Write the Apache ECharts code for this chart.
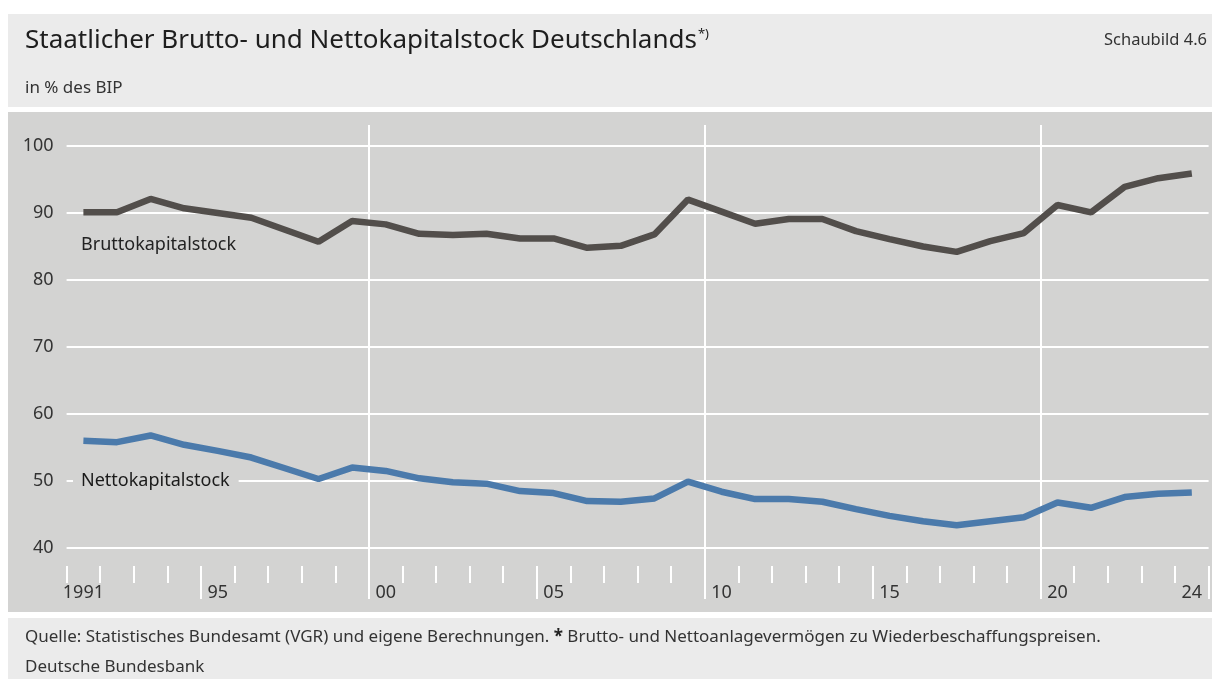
<!doctype html>
<html>
	<head>
		<meta charset="utf-8">
		<title>Staatlicher Brutto- und Nettokapitalstock</title>
		<style>
			html, body { margin: 0; padding: 0; background: #fff; }
		</style>
	</head>
	<body>
		<script src="https://cdn.jsdelivr.net/npm/echarts@6/dist/echarts.min.js"></script>

		<div id="chart" style="width: 1212px; height: 679px;"></div>

		<script>
			// values (% of GDP)
			const years = ['1991', '1992', '1993', '1994', '1995', '1996', '1997', '1998', '1999', '2000',
				'2001', '2002', '2003', '2004', '2005', '2006', '2007', '2008', '2009', '2010',
				'2011', '2012', '2013', '2014', '2015', '2016', '2017', '2018', '2019', '2020',
				'2021', '2022', '2023', '2024'];
			const brutto = [90.1, 90.1, 92.1, 90.7, 90.0, 89.3, 87.5, 85.7, 88.8, 88.3,
				86.9, 86.7, 86.9, 86.2, 86.2, 84.8, 85.1, 86.8, 92.0, 90.2,
				88.4, 89.1, 89.1, 87.3, 86.1, 85.0, 84.2, 85.8, 87.0, 91.2,
				90.1, 93.9, 95.2, 95.9];
			const netto = [56.0, 55.8, 56.8, 55.4, 54.5, 53.5, 51.9, 50.3, 52.0, 51.5,
				50.4, 49.8, 49.6, 48.5, 48.2, 47.0, 46.9, 47.4, 49.9, 48.4,
				47.3, 47.3, 46.9, 45.8, 44.8, 44.0, 43.4, 44.0, 44.6, 46.8,
				46.0, 47.6, 48.1, 48.3];

			const labelYears = ['1991', '1995', '2000', '2005', '2010', '2015', '2020', '2024'];
			const labelTexts = ['1991', '95', '00', '05', '10', '15', '20', '24'];
			const longTickYears = ['1995', '2000', '2005', '2010', '2015', '2020'];
			const decadeYears = ['2000', '2010', '2020'];

			const FONT = '"Noto Sans", "Open Sans", sans-serif';
			const plotBg = '#d3d3d2';
			const paneBg = '#ebebeb';

			let dom = document.getElementById('chart');
			let myChart = echarts.init(dom, null, { width: 1212, height: 679 });

			let opts = {
				animation: false,
				backgroundColor: '#ffffff',
				textStyle: { fontFamily: FONT },
				graphic: [
					{ type: 'rect', z: -10, shape: { x: 8, y: 14, width: 1204, height: 93 }, style: { fill: paneBg } },
					{ type: 'rect', z: -10, shape: { x: 8, y: 112, width: 1204, height: 500 }, style: { fill: plotBg } },
					{ type: 'rect', z: -10, shape: { x: 8, y: 618, width: 1204, height: 61 }, style: { fill: paneBg } },
					{
						type: 'text', z: 10, x: 25, y: 41,
						style: {
							text: '{t|Staatlicher Brutto- und Nettokapitalstock Deutschlands}{s|*)}',
							verticalAlign: 'middle',
							rich: {
								t: { fontFamily: FONT, fontSize: 26, fill: '#1e1e1e' },
								s: { fontFamily: FONT, fontSize: 13, fill: '#1e1e1e', verticalAlign: 'top', padding: [0, 0, 12, 1] }
							}
						}
					},
					{
						type: 'text', z: 10, x: 1207, y: 40,
						style: { text: 'Schaubild 4.6', font: '16.5px ' + FONT, fill: '#333', align: 'right', verticalAlign: 'middle' }
					},
					{
						type: 'text', z: 10, x: 25, y: 88,
						style: { text: 'in % des BIP', font: '17px ' + FONT, fill: '#333', verticalAlign: 'middle' }
					},
					{
						type: 'text', z: 10, x: 25, y: 637,
						style: {
							text: '{n|Quelle: Statistisches Bundesamt (VGR) und eigene Berechnungen. }{b|*}{n| Brutto- und Nettoanlagevermögen zu Wiederbeschaffungspreisen.}',
							verticalAlign: 'middle',
							rich: {
								n: { fontFamily: FONT, fontSize: 17, fill: '#333' },
								b: { fontFamily: FONT, fontSize: 17, fontWeight: 'bold', fill: '#222' }
							}
						}
					},
					{
						type: 'text', z: 10, x: 25, y: 667,
						style: { text: 'Deutsche Bundesbank', font: '17px ' + FONT, fill: '#333', verticalAlign: 'middle' }
					},
					// series names inside the plot
					{
						type: 'text', z: 10, x: 81, y: 245,
						style: { text: 'Bruttokapitalstock', font: '18px ' + FONT, fill: '#222', verticalAlign: 'middle' }
					},
					{
						type: 'text', z: 10, x: 73, y: 481,
						style: {
							text: 'Nettokapitalstock', font: '18px ' + FONT, fill: '#1a1a1a', verticalAlign: 'middle',
							backgroundColor: plotBg, padding: [2, 9, 2, 8]
						}
					}
				],
				grid: [
					{ left: 66.6, right: 3.4, top: 146, bottom: 131 },
					{ left: 66.6, right: 3.4, top: 125, bottom: 80 }
				],
				xAxis: [
					{
						gridIndex: 0,
						type: 'category',
						data: years,
						offset: 18,
						axisLine: { show: false },
						axisTick: { show: true, interval: 0, length: 17, lineStyle: { color: '#fff', width: 2 } },
						axisLabel: {
							interval: (i, v) => labelYears.includes(v),
							formatter: v => labelTexts[labelYears.indexOf(v)],
							color: '#333', fontSize: 18, fontFamily: FONT, margin: 18
						},
						splitLine: { show: false }
					},
					{
						gridIndex: 1,
						type: 'category',
						data: years,
						axisLine: { show: false },
						axisTick: {
							show: true, inside: true, length: 33,
							interval: (i, v) => longTickYears.includes(v),
							lineStyle: { color: '#fff', width: 2 }
						},
						axisLabel: { show: false },
						splitLine: {
							show: true, showMaxLine: false,
							interval: (i, v) => decadeYears.includes(v),
							lineStyle: { color: '#fff', width: 2 }
						}
					}
				],
				yAxis: [
					{
						gridIndex: 0,
						type: 'value',
						min: 40,
						max: 100,
						interval: 10,
						axisLine: { show: false },
						axisTick: { show: false },
						axisLabel: { color: '#333', fontSize: 18, fontFamily: FONT, margin: 13 },
						splitLine: { lineStyle: { color: '#fff', width: 2 } }
					},
					{
						gridIndex: 1,
						type: 'value',
						min: 0,
						max: 1,
						show: false,
						splitLine: { show: false }
					}
				],
				series: [
					{
						name: 'Bruttokapitalstock',
						type: 'line',
						xAxisIndex: 0,
						yAxisIndex: 0,
						data: brutto,
						showSymbol: false,
						symbol: 'none',
						z: 5,
						lineStyle: { width: 6.5, color: '#524e4b' }
					},
					{
						name: 'Nettokapitalstock',
						type: 'line',
						xAxisIndex: 0,
						yAxisIndex: 0,
						data: netto,
						showSymbol: false,
						symbol: 'none',
						z: 5,
						lineStyle: { width: 6.5, color: '#4b7aab' }
					}
				]
			};

			myChart.setOption(opts, { notMerge: true });
		</script>
	</body>
</html>
